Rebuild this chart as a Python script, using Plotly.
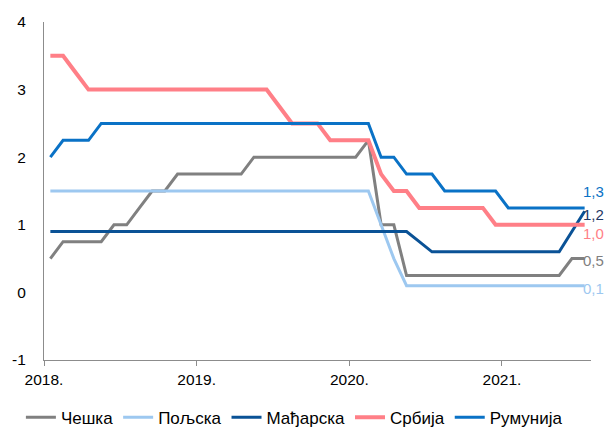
import plotly.graph_objects as go
from decimal import Decimal, ROUND_HALF_UP

# Monthly observations, January 2018 – July 2021
months = [f"{y}-{m:02d}" for y in range(2018, 2022) for m in range(1, 13)][:43]

czech = [0.5, 0.75, 0.75, 0.75, 0.75, 1.0, 1.0, 1.25, 1.5, 1.5,
         1.75, 1.75, 1.75, 1.75, 1.75, 1.75, 2.0, 2.0, 2.0, 2.0,
         2.0, 2.0, 2.0, 2.0, 2.0, 2.25, 1.0, 1.0, 0.25, 0.25,
         0.25, 0.25, 0.25, 0.25, 0.25, 0.25, 0.25, 0.25, 0.25, 0.25,
         0.25, 0.5, 0.5]
poland = [1.5, 1.5, 1.5, 1.5, 1.5, 1.5, 1.5, 1.5, 1.5, 1.5,
          1.5, 1.5, 1.5, 1.5, 1.5, 1.5, 1.5, 1.5, 1.5, 1.5,
          1.5, 1.5, 1.5, 1.5, 1.5, 1.5, 1.0, 0.5, 0.1, 0.1,
          0.1, 0.1, 0.1, 0.1, 0.1, 0.1, 0.1, 0.1, 0.1, 0.1,
          0.1, 0.1, 0.1]
hungary = [0.9, 0.9, 0.9, 0.9, 0.9, 0.9, 0.9, 0.9, 0.9, 0.9,
           0.9, 0.9, 0.9, 0.9, 0.9, 0.9, 0.9, 0.9, 0.9, 0.9,
           0.9, 0.9, 0.9, 0.9, 0.9, 0.9, 0.9, 0.9, 0.9, 0.75,
           0.6, 0.6, 0.6, 0.6, 0.6, 0.6, 0.6, 0.6, 0.6, 0.6,
           0.6, 0.9, 1.2]
serbia = [3.5, 3.5, 3.25, 3.0, 3.0, 3.0, 3.0, 3.0, 3.0, 3.0,
          3.0, 3.0, 3.0, 3.0, 3.0, 3.0, 3.0, 3.0, 2.75, 2.5,
          2.5, 2.5, 2.25, 2.25, 2.25, 2.25, 1.75, 1.5, 1.5, 1.25,
          1.25, 1.25, 1.25, 1.25, 1.25, 1.0, 1.0, 1.0, 1.0, 1.0,
          1.0, 1.0, 1.0]
romania = [2.0, 2.25, 2.25, 2.25, 2.5, 2.5, 2.5, 2.5, 2.5, 2.5,
           2.5, 2.5, 2.5, 2.5, 2.5, 2.5, 2.5, 2.5, 2.5, 2.5,
           2.5, 2.5, 2.5, 2.5, 2.5, 2.5, 2.0, 2.0, 1.75, 1.75,
           1.75, 1.5, 1.5, 1.5, 1.5, 1.5, 1.25, 1.25, 1.25, 1.25,
           1.25, 1.25, 1.25]

series_names = ["Чешка", "Пољска", "Мађарска", "Србија", "Румунија"]
year_labels = ["2018.", "2019.", "2020.", "2021."]
y_ticks = [-1, 0, 1, 2, 3, 4]

FONT = "Liberation Sans, Arial, sans-serif"
styles = [
    # (line colour, line width, end-label colour, end-label vertical offset px)
    ("#808080", 3, "#7f7f7f", -2),
    ("#9dc8f0", 3, "#9dc8f0", -3),
    ("#0a5296", 3, "#1f3864", -3),
    ("#ff7f87", 4, "#ff7f87", -9),
    ("#0a72c6", 3, "#0a72c6", 16),
]

x = list(range(len(months)))
fig = go.Figure()
for name, vals, (col, w, _, _) in zip(series_names,
                                      [czech, poland, hungary, serbia, romania],
                                      styles):
    fig.add_trace(go.Scatter(x=x, y=vals, name=name, mode="lines",
                             line=dict(color=col, width=w),
                             hoverinfo="skip"))


def fmt(v):
    d = Decimal(str(v)).quantize(Decimal("0.1"), rounding=ROUND_HALF_UP)
    return str(d).replace(".", ",")


# value labels at the last observation
for vals, (_, _, lcol, dy) in zip([czech, poland, hungary, serbia, romania], styles):
    fig.add_annotation(x=x[-1], y=vals[-1], xref="x", yref="y",
                       text=fmt(vals[-1]), showarrow=False,
                       xanchor="left", yanchor="middle", xshift=-3, yshift=dy,
                       borderpad=0,
                       font=dict(family=FONT, size=15, color=lcol))

year_pos = [months.index(f"{lbl[:4]}-01") - 0.5 for lbl in year_labels]

fig.update_layout(
    width=607, height=435, autosize=False,
    margin=dict(l=43, r=16, t=22, b=73),
    paper_bgcolor="white", plot_bgcolor="white",
    font=dict(family=FONT, size=15.5, color="#000000"),
    showlegend=True,
    legend=dict(orientation="h", xref="container", yref="container",
                x=0.485, xanchor="center", y=0.04, yanchor="middle",
                font=dict(family=FONT, size=17, color="#000000"),
                itemwidth=30, tracegroupgap=0),
)
fig.update_xaxes(range=[-0.5, len(months) - 0.5], tickvals=year_pos,
                 ticktext=year_labels, ticks="outside", ticklen=5,
                 tickcolor="#8c8c8c", showline=True, linecolor="#8c8c8c",
                 linewidth=1, showgrid=False, zeroline=False,
                 tickfont=dict(family=FONT, size=15.5, color="#000000"))
fig.update_yaxes(range=[-1, 4], tickvals=y_ticks,
                 ticktext=[str(t) for t in y_ticks], ticks="",
                 showline=True, linecolor="#8c8c8c", linewidth=1,
                 showgrid=False, zeroline=False, ticklabelstandoff=14,
                 tickfont=dict(family=FONT, size=15.5, color="#000000"))

fig.write_html("out.html")
